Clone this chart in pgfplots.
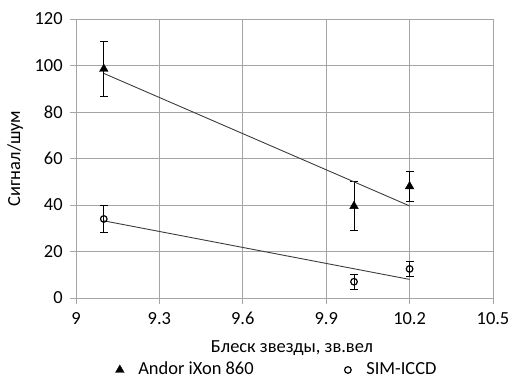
\documentclass[border=0pt]{standalone}
\usepackage{fontspec}
\setmainfont{Carlito}
\usepackage{pgfplots}
\pgfplotsset{compat=1.18}
\definecolor{gridgray}{RGB}{165,165,165}
\definecolor{trend}{RGB}{60,60,60}
\begin{document}
\fontsize{18.5}{22}\selectfont
\begin{tikzpicture}
\path[use as bounding box] (-76bp,-81bp) rectangle (434bp,298bp);
\begin{axis}[
  scale only axis,
  width=417bp, height=279bp,
  xmin=9, xmax=10.5, ymin=0, ymax=120,
  xtick={9,9.3,9.6,9.9,10.2,10.5},
  xticklabels={9,9.3,9.6,9.9,10.2,10.5},
  ytick={0,20,...,120},
  /pgf/number format/assume math mode=true,
  tick label style={font=\fontsize{18.5}{22}\selectfont},
  label style={font=\fontsize{18.5}{22}\selectfont},
  grid=major,
  major grid style={gridgray, line width=0.8pt},
  axis line style={gridgray, line width=0.8pt},
  tick style={gridgray, line width=0.8pt},
  tick align=outside,
  major tick length=6bp,
  axis x line*=bottom, axis y line*=left,
  xtick pos=bottom, ytick pos=left,
  xticklabel style={yshift=-2bp},
  yticklabel style={xshift=-1bp},
  ylabel={Сигнал/шум},
  ylabel style={at={(axis description cs:-0.146,0.5)}, anchor=center},
  xlabel={Блеск звезды, зв.вел},
  xlabel style={at={(axis description cs:0.518,-0.179)}, anchor=center},
  legend style={at={(axis description cs:0.482,-0.258)}, anchor=center, draw=none, fill=none,
    legend columns=2, font=\fontsize{18.5}{22}\selectfont,
    /tikz/every even column/.append style={column sep=88bp}},
  legend cell align=left,
  legend image code/.code={\path[draw=none,fill=none] (-0.15cm,0cm) -- (0.58cm,0cm); \draw[#1, only marks] plot coordinates {(0cm,0cm)};},
]
\addplot[only marks, mark=triangle*, mark size=5bp, black,
  error bars/.cd, y dir=both, y explicit, error bar style={black, line width=0.9pt},
  error mark options={rotate=90, mark size=4bp, black, line width=0.9pt}]
  coordinates {
  (9.1,98.5) +- (0,12)
  (10.0,39.5) +- (0,10.6)
  (10.2,48) +- (0,6.6)
  };
\addlegendentry{Andor iXon 860}
\addplot[only marks, mark=o, mark size=3.3bp, black, mark options={line width=1.2pt},
  error bars/.cd, y dir=both, y explicit, error bar style={black, line width=0.9pt},
  error mark options={rotate=90, mark size=4bp, black, line width=0.9pt}]
  coordinates {
  (9.1,34) +- (0,5.7)
  (10.0,7) +- (0,3.2)
  (10.2,12.5) +- (0,3.2)
  };
\addlegendentry{SIM-ICCD}
\addplot[trend, line width=0.9pt, forget plot] coordinates {(9.1,96.6) (10.2,39.6)};
\addplot[trend, line width=0.9pt, forget plot] coordinates {(9.1,33.2) (10.2,8.0)};
\end{axis}
\end{tikzpicture}
\end{document}
